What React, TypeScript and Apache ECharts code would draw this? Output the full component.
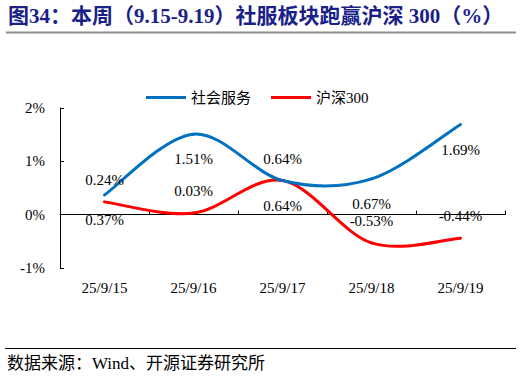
import React, { useEffect, useRef } from 'react';
import * as echarts from 'echarts';

const categories = ['25/9/15', '25/9/16', '25/9/17', '25/9/18', '25/9/19'];
const socialServices = [0.37, 1.51, 0.64, 0.67, 1.69];
const csi300 = [0.24, 0.03, 0.64, -0.53, -0.44];
const socialLabelSide = ['bottom', 'bottom', 'top', 'bottom', 'bottom'];
const csiLabelSide = ['top', 'top', 'bottom', 'top', 'top'];
const seriesNames = ['社会服务', '沪深300'];
const seriesColors = ['#0070C0', '#FF0000'];
const titleText = '图34：本周（9.15-9.19）社服板块跑赢沪深 300（%）';
const sourceText = '数据来源：Wind、开源证券研究所';

const FONT = "'Liberation Serif', 'Times New Roman', 'Noto Sans CJK SC', serif";

function buildData(values: number[], sides: string[]) {
  return values.map((v, i) => ({
    value: v,
    label: {
      position: sides[i],
      distance: sides[i] === 'top' ? 14 : 17,
    },
  }));
}

// Smooth curve (Catmull-Rom style, as spreadsheet charts draw it) through the
// points, each placed by the chart's own axes via api.coord.
function smoothCurveSeries(values: number[], color: string, z: number) {
  const n = values.length;
  return {
    type: 'custom',
    silent: true,
    z,
    xAxisIndex: 0,
    data: values.map((v, i) => [i, v]),
    encode: { x: 0, y: 1 },
    renderItem: (params: any, api: any) => {
      const i = params.dataIndex;
      if (i >= n - 1) return null;
      const idx = (k: number) => Math.max(0, Math.min(n - 1, k));
      const p0 = api.coord([idx(i - 1), values[idx(i - 1)]]);
      const p1 = api.coord([i, values[i]]);
      const p2 = api.coord([i + 1, values[i + 1]]);
      const p3 = api.coord([idx(i + 2), values[idx(i + 2)]]);
      return {
        type: 'bezierCurve',
        shape: {
          x1: p1[0],
          y1: p1[1],
          cpx1: p1[0] + (p2[0] - p0[0]) / 6,
          cpy1: p1[1] + (p2[1] - p0[1]) / 6,
          cpx2: p2[0] - (p3[0] - p1[0]) / 6,
          cpy2: p2[1] - (p3[1] - p1[1]) / 6,
          x2: p2[0],
          y2: p2[1],
        },
        style: { stroke: color, lineWidth: 3, fill: 'none', lineCap: 'round' },
      };
    },
  };
}

export default function App() {
  const ref = useRef<HTMLDivElement>(null);
  useEffect(() => {
    if (!ref.current) return;
    const chart = echarts.init(ref.current, undefined, { renderer: 'svg' });
    const labelCommon = {
      show: true,
      fontFamily: FONT,
      fontSize: 15,
      color: '#000',
      formatter: (p: any) => `${Number(p.value).toFixed(2)}%`,
    };
    chart.setOption({
      animation: false,
      backgroundColor: '#fff',
      graphic: [
        {
          type: 'text',
          left: 8,
          top: 5,
          style: {
            text: titleText,
            fontFamily: FONT,
            fontSize: 21,
            fontWeight: 'bold',
            fill: '#1B1F88',
          },
        },
        {
          type: 'line',
          shape: { x1: 6, y1: 32.5, x2: 516, y2: 32.5 },
          style: { stroke: '#8C8C8C', lineWidth: 2 },
        },
        {
          type: 'line',
          shape: { x1: 5, y1: 348.5, x2: 516, y2: 348.5 },
          style: { stroke: '#000', lineWidth: 1 },
        },
        {
          type: 'text',
          left: 7,
          top: 355,
          style: {
            text: sourceText,
            fontFamily: FONT,
            fontSize: 17,
            fill: '#000',
          },
        },
      ],
      legend: {
        left: 141,
        top: 85,
        itemWidth: 40,
        itemHeight: 3,
        itemGap: 20,
        icon: 'rect',
        data: seriesNames,
        textStyle: { fontFamily: FONT, fontSize: 15, color: '#000' },
      },
      grid: { left: 60, right: 17, top: 108, bottom: 110, containLabel: false },
      xAxis: [
        {
          type: 'category',
          data: categories,
          boundaryGap: true,
          axisLine: { onZero: true, lineStyle: { color: '#000', width: 1 } },
          axisTick: { show: true, inside: true, length: 4, lineStyle: { color: '#000' } },
          axisLabel: { show: false },
          splitLine: { show: false },
        },
        {
          type: 'category',
          data: categories,
          position: 'bottom',
          boundaryGap: true,
          axisLine: { show: false, onZero: false },
          axisTick: { show: false },
          axisLabel: { show: true, margin: 12, fontFamily: FONT, fontSize: 15, color: '#000' },
          splitLine: { show: false },
        },
      ],
      yAxis: {
        type: 'value',
        min: -1,
        max: 2,
        interval: 1,
        axisLine: { show: true, lineStyle: { color: '#000', width: 1 } },
        axisTick: { show: true, inside: true, length: 4, lineStyle: { color: '#000' } },
        axisLabel: { margin: 15, fontFamily: FONT, fontSize: 15, color: '#000', formatter: '{value}%' },
        splitLine: { show: false },
      },
      series: [
        {
          name: seriesNames[0],
          type: 'line',
          xAxisIndex: 0,
          symbol: 'circle',
          symbolSize: 1,
          showSymbol: true,
          data: buildData(socialServices, socialLabelSide),
          lineStyle: { color: seriesColors[0], width: 3, opacity: 0 },
          itemStyle: { color: seriesColors[0] },
          label: labelCommon,
          z: 4,
        },
        {
          name: seriesNames[1],
          type: 'line',
          xAxisIndex: 0,
          symbol: 'circle',
          symbolSize: 1,
          showSymbol: true,
          data: buildData(csi300, csiLabelSide),
          lineStyle: { color: seriesColors[1], width: 3, opacity: 0 },
          itemStyle: { color: seriesColors[1] },
          label: labelCommon,
          z: 4,
        },
        smoothCurveSeries(socialServices, seriesColors[0], 3),
        smoothCurveSeries(csi300, seriesColors[1], 2),
      ],
    });
    return () => chart.dispose();
  }, []);
  return (
    <div
      ref={ref}
      style={{ position: 'absolute', left: 0, top: 0, width: 522, height: 378 }}
    />
  );
}
